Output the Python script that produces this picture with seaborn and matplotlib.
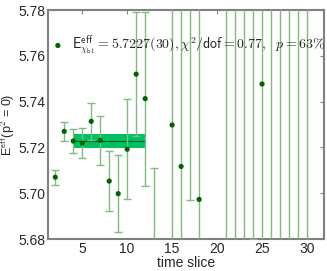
import numpy as np
import pandas as pd
import matplotlib
matplotlib.use('Agg')
import matplotlib.pyplot as plt
import seaborn as sns

# effective energy per time slice
t = [2, 3, 4, 5, 6, 7, 8, 9, 10, 11, 12, 13, 15, 16, 17, 18,
     21, 22, 23, 24, 25, 26, 27, 28, 29, 30]
e_eff = [5.707, 5.727, 5.7228, 5.7219, 5.7314, 5.7231, 5.7053, 5.6998, 5.7192,
         5.752, 5.7413, 5.66, 5.7298, 5.7117, 5.80, 5.6973,
         5.60, 5.86, 5.58, 5.88, 5.7477, 5.55, 5.90, 5.56, 5.88, 5.57]
e_err = [0.0033, 0.004, 0.0051, 0.0064, 0.008, 0.0107, 0.013, 0.0168, 0.0218,
         0.027, 0.038, 0.051, 0.08, 0.09, 0.103, 0.11,
         0.2, 0.2, 0.22, 0.2, 0.15, 0.25, 0.25, 0.3, 0.3, 0.3]

# fit result
fit_t = [4, 12]
fit_val = 5.7227
fit_err = 0.0030
fit_label = (r'$\mathsf{E}^{\mathsf{eff}}_{\chi_{\mathsf{b1}}} = 5.7227(30), '
             r'\chi^2/\mathsf{dof} = 0.77,\ \ p = 63\%$')

df = pd.DataFrame({'t': t, 'E': e_eff, 'err': e_err})

sns.set_style('white')
plt.rcParams['font.family'] = ['Liberation Sans', 'DejaVu Sans']
plt.rcParams['mathtext.fontset'] = 'cm'

fig = plt.figure(figsize=(3.27, 2.71), dpi=100)
ax = fig.add_axes([0.147, 0.118, 0.844, 0.845])

ax.fill_between(fit_t, fit_val - fit_err, fit_val + fit_err,
                color='#00c060', lw=0, zorder=1)
ax.plot(fit_t, [fit_val, fit_val], color='#006030', lw=0.8, zorder=2)

ax.errorbar(df['t'], df['E'], yerr=df['err'], fmt='none',
            ecolor='#80bc80', elinewidth=1.0, capsize=3, capthick=1.0, zorder=3)
sns.scatterplot(data=df, x='t', y='E', color='#006400', s=14, edgecolor='none',
                ax=ax, zorder=4, label=fit_label)

ax.set_xlim(1.2, 31.9)
ax.set_ylim(5.68, 5.78)
ax.set_xticks([5, 10, 15, 20, 25, 30])
ax.set_yticks([5.68, 5.70, 5.72, 5.74, 5.76, 5.78])
ax.set_yticklabels(['5.68', '5.70', '5.72', '5.74', '5.76', '5.78'])
ax.tick_params(direction='in', length=3, labelsize=10, color='#808080',
               top=True, right=True, pad=2)
for s in ax.spines.values():
    s.set_color('#808080')
    s.set_linewidth(1.5)

ax.set_xlabel('time slice', fontsize=10, labelpad=0)
ax.set_ylabel(r'E$^{\mathsf{eff}}$(p$^2$ = 0)', fontsize=9)
ax.yaxis.set_label_coords(-0.112, 0.5)

leg = ax.legend(loc='upper left', frameon=False, fontsize=10,
                handletextpad=0.0, borderaxespad=0.0, markerscale=1.0,
                bbox_to_anchor=(-0.035, 0.92))

fig.savefig('out.png', dpi=100)
